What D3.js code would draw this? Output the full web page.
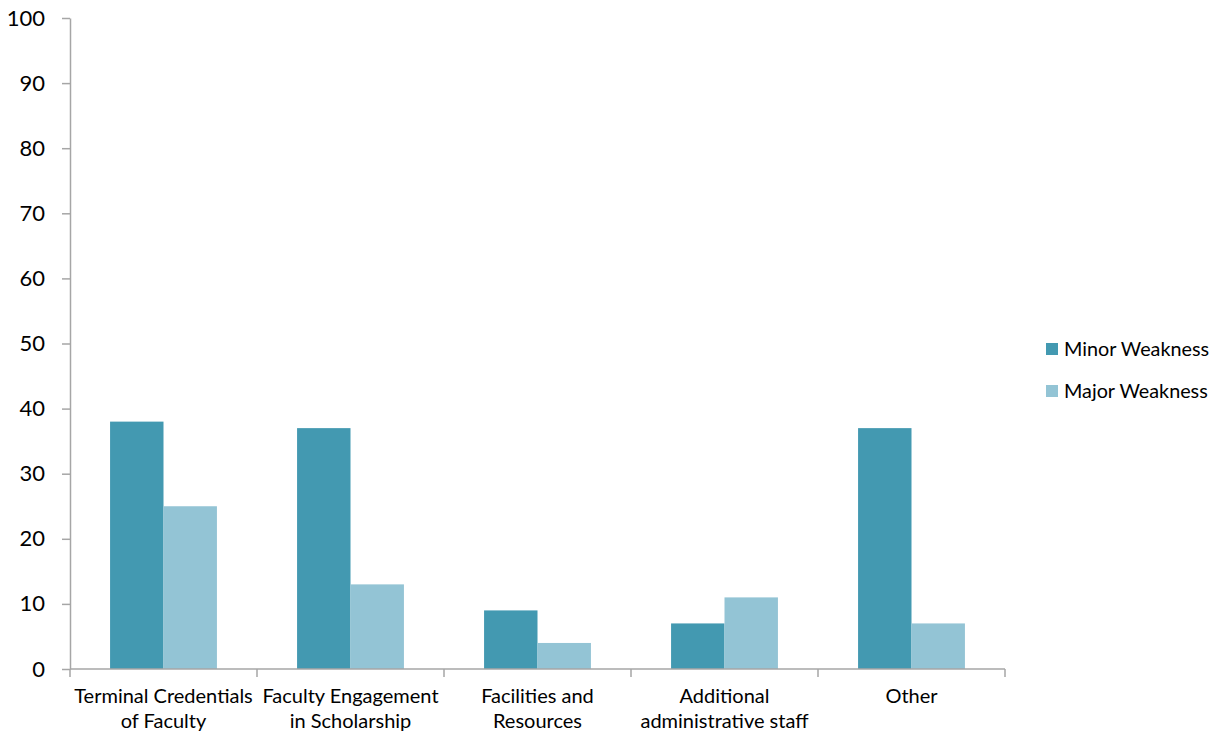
<!DOCTYPE html>
<html>
<head>
<meta charset="utf-8">
<script src="https://cdn.jsdelivr.net/npm/d3@7"></script>
<style>
  body { margin: 0; background: #fff; }
  svg { display: block; font-family: Lato, "Open Sans", sans-serif; }
</style>
</head>
<body>
<svg id="chart" width="1215" height="734"></svg>
<script>
const categories = [
  ["Terminal Credentials", "of Faculty"],
  ["Faculty Engagement", "in Scholarship"],
  ["Facilities and", "Resources"],
  ["Additional", "administrative staff"],
  ["Other"]
];
const seriesNames = ["Minor Weakness", "Major Weakness"];
const minorWeakness = [38, 37, 9, 7, 37];
const majorWeakness = [25, 13, 4, 11, 7];
const yTicks = [0, 10, 20, 30, 40, 50, 60, 70, 80, 90, 100];
const colors = ["#4399B1", "#93C4D5"];

const svg = d3.select("#chart");
const plotLeft = 70, plotRight = 1005, plotTop = 18, plotBottom = 669;
const axisColor = "#A6A6A6";

const keys = categories.map((c, i) => i);
const x = d3.scaleBand().domain(keys).range([plotLeft, plotRight]).paddingInner(0).paddingOuter(0);
const inner = d3.scaleBand().domain([0, 1]).range([0, x.bandwidth()]).paddingInner(0).paddingOuter(0.75);
const y = d3.scaleLinear().domain([0, 100]).range([plotBottom, plotTop]);

const series = [minorWeakness, majorWeakness];

// bars
const groups = svg.append("g").selectAll("g").data(keys).join("g")
  .attr("transform", d => `translate(${x(d)},0)`);
groups.selectAll("rect")
  .data(i => series.map((s, k) => ({k, v: s[i]})))
  .join("rect")
  .attr("x", d => inner(d.k))
  .attr("width", inner.bandwidth())
  .attr("y", d => y(d.v))
  .attr("height", d => y(0) - y(d.v))
  .attr("fill", d => colors[d.k]);

// y axis
const yAxis = svg.append("g")
  .attr("transform", `translate(${plotLeft},0)`)
  .call(d3.axisLeft(y).tickValues(yTicks).tickSize(8).tickPadding(10).tickSizeOuter(0));
yAxis.select(".domain").attr("stroke", axisColor).attr("stroke-width", 1.5);
yAxis.selectAll(".tick line").attr("stroke", axisColor).attr("stroke-width", 1.5);
yAxis.selectAll(".tick text").attr("font-size", 22).attr("fill", "#000")
  .attr("font-family", "Lato, sans-serif").attr("dx", -7);

// x axis with boundary ticks between categories
const xAxisG = svg.append("g").attr("transform", `translate(0,${plotBottom})`);
xAxisG.append("line").attr("x1", plotLeft).attr("x2", plotRight)
  .attr("stroke", axisColor).attr("stroke-width", 1.5);
const boundaries = keys.map(k => x(k)).concat([x(keys[keys.length - 1]) + x.bandwidth()]);
xAxisG.selectAll("line.tk").data(boundaries).join("line").attr("class", "tk")
  .attr("x1", d => d).attr("x2", d => d).attr("y1", 0).attr("y2", 8)
  .attr("stroke", axisColor).attr("stroke-width", 1.5);

// category labels
const labels = svg.append("g").selectAll("text").data(keys).join("text")
  .attr("x", d => x(d) + x.bandwidth() / 2)
  .attr("y", 703)
  .attr("text-anchor", "middle")
  .attr("font-size", 20)
  .attr("fill", "#000");
labels.selectAll("tspan").data(d => categories[d]).join("tspan")
  .attr("x", function() { return this.parentNode.getAttribute("x"); })
  .attr("dy", (d, i) => i === 0 ? 0 : 25)
  .text(d => d);

// legend
const legend = svg.append("g").selectAll("g").data(seriesNames).join("g")
  .attr("transform", (d, i) => `translate(1046,${343 + i * 42})`);
legend.append("rect").attr("width", 12).attr("height", 12).attr("fill", (d, i) => colors[i]);
legend.append("text").attr("x", 18).attr("y", 12.5).attr("font-size", 19.8).attr("fill", "#000").text(d => d);
</script>
</body>
</html>
